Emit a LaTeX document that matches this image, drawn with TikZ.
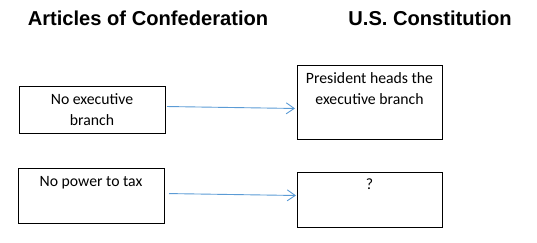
\documentclass[tikz,border=0pt]{standalone}
\usepackage{fontspec}
\setmainfont{Carlito}
\newfontfamily\headfont{Liberation Sans}
\usepackage{tikz}
\usetikzlibrary{arrows.meta}
\usetikzlibrary{positioning}
\usepackage{xcolor}
\definecolor{linkblue}{RGB}{91,155,213}

\begin{document}
\begin{tikzpicture}[x = 1bp, y = -1bp,
    box/.style = {draw, line width = 1bp, inner sep = 0pt, anchor = north west},
    txt/.style = {font = \fontsize{15.8}{21}\selectfont, align = center, inner sep = 0pt, anchor = base},
    head/.style = {font = \headfont\bfseries\fontsize{20.2}{24}\selectfont, anchor = base},
    link/.style = {draw = linkblue, line width = 0.9bp, -{Straight Barb[length = 8bp, width = 11bp]}}]

    \useasboundingbox (0,0) rectangle (537,242);

    \node[head] (articles) at (148,25) {Articles of Confederation};
    \node[head] (constitution) at (430,25) {U.S. Constitution};

    % left column (text anchored on the baseline of its last line)
    \node[box, minimum width = 146bp, minimum height = 47bp] (noexec) at (19,86) {};
    \node[txt] (noexectxt) at (92,125.3) {No executive\\branch};

    \node[box, minimum width = 146bp, minimum height = 55bp] (notax) at (18,168) {};
    \node[txt] (notaxtxt) at (91,186) {No power to tax};

    % right column
    \node[box, minimum width = 145bp, minimum height = 74bp] (president) at (297,65) {};
    \node[txt] (presidenttxt) at (369.5,104.3) {President heads the\\executive branch};

    \node[box, minimum width = 145bp, minimum height = 55bp] (unknown) at (297,172) {};
    \node[txt] (unknowntxt) at (369.5,189) {?};

    \draw[link, shorten <= 1bp, shorten >= 2bp] ([yshift = 3.5bp]noexec.east) -- ([yshift = -6bp]president.west);
    \draw[link, shorten <= 4bp, shorten >= 1bp] ([yshift = 2.5bp]notax.east) -- ([yshift = 4.5bp]unknown.west);

\end{tikzpicture}
\end{document}
